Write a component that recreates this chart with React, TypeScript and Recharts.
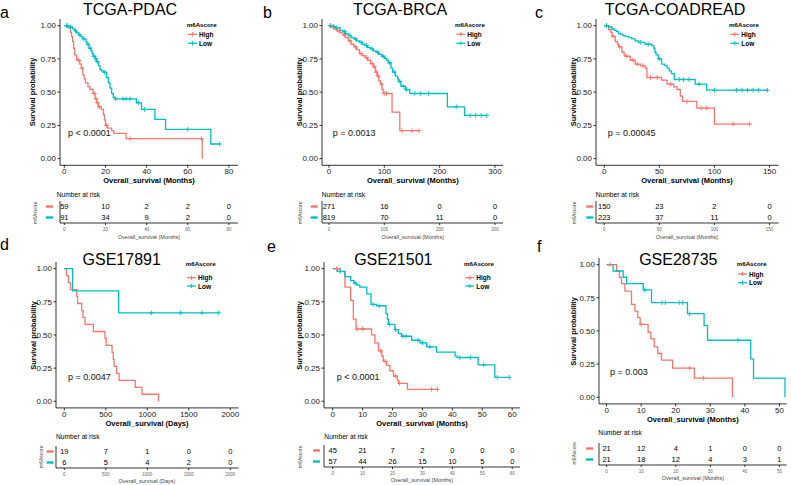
import React from 'react';
import { ComposedChart, ScatterChart, Line, Scatter, XAxis, YAxis } from 'recharts';

// [time, survival, censored?]
type Pt = [number, number, number?];

const RED = '#F8766D';
const TEAL = '#00BFC4';
const FONT = '"Liberation Sans", Arial, Helvetica, sans-serif';

const survTicks = [0, 0.25, 0.5, 0.75, 1];
const groups = ['High', 'Low'];

// a: TCGA-PDAC
const pdacTicks = [0, 20, 40, 60, 80];
const pdacHigh: Pt[] = [
  [0, 1], [1.5, 1, 1], [2, 0.983], [3, 0.95], [3.5, 0.92], [4, 0.88], [4.5, 0.83], [5, 0.78], [6, 0.74],
  [7, 0.74, 1], [7.5, 0.71], [8.3, 0.68], [8.6, 0.68, 1], [9, 0.63], [9.6, 0.6], [10.3, 0.57], [11.5, 0.54],
  [12.5, 0.52], [14, 0.49], [14.5, 0.49, 1], [15, 0.45], [15.4, 0.45, 1], [15.8, 0.42], [16.1, 0.42, 1],
  [16.5, 0.39], [17, 0.39, 1], [18, 0.37], [19, 0.33], [19.5, 0.29], [20, 0.25], [20.5, 0.25, 1], [21, 0.23],
  [23, 0.21], [24, 0.19], [30, 0.15], [32, 0.15, 1], [66.6, 0.15, 1], [67, 0],
];
const pdacLow: Pt[] = [
  [0, 1], [1, 1, 1], [2, 0.99], [3, 0.99, 1], [4, 0.975], [5, 0.96], [5.5, 0.96, 1], [6, 0.945], [7, 0.93],
  [7.5, 0.93, 1], [8, 0.915], [9, 0.9], [9.5, 0.9, 1], [10.5, 0.88], [11, 0.86], [11.5, 0.86, 1], [12, 0.83],
  [12.5, 0.83, 1], [13, 0.81], [13.5, 0.79], [14, 0.77], [14.5, 0.77, 1], [15, 0.75], [15.3, 0.75, 1],
  [15.7, 0.73], [16, 0.73, 1], [16.5, 0.7], [17.3, 0.67], [18, 0.66], [19, 0.65], [19.5, 0.65, 1],
  [20.5, 0.61], [21.4, 0.57], [22.2, 0.53], [23, 0.49], [23.8, 0.46], [24.6, 0.45], [25, 0.45, 1],
  [28.6, 0.45, 1], [30, 0.45, 1], [32, 0.45, 1], [35, 0.42], [36, 0.42, 1], [37.5, 0.37], [39, 0.37, 1],
  [44, 0.295], [49.2, 0.22], [60, 0.22, 1], [71.2, 0.11], [75.5, 0.11, 1],
];
const pdacRiskHigh = [59, 10, 2, 2, 0];
const pdacRiskLow = [91, 34, 9, 2, 0];

// b: TCGA-BRCA
const brcaTicks = [0, 100, 200, 300];
const brcaHigh: Pt[] = [
  [0, 1], [3, 1, 1], [5, 0.99], [8, 0.99, 1], [10, 0.975], [13, 0.975, 1], [15, 0.96], [18, 0.96, 1],
  [20, 0.945], [25, 0.93], [28, 0.93, 1], [30, 0.91], [35, 0.885], [38, 0.885, 1], [40, 0.86], [45, 0.84],
  [48, 0.84, 1], [50, 0.82], [55, 0.79], [58, 0.79, 1], [60, 0.775], [65, 0.76], [68, 0.76, 1], [70, 0.74],
  [75, 0.715], [78, 0.715, 1], [80, 0.69], [82, 0.69, 1], [84, 0.65], [86, 0.65, 1], [87, 0.62],
  [89, 0.62, 1], [90, 0.585], [93, 0.56], [95, 0.56, 1], [96, 0.52], [98, 0.49], [100, 0.49, 1],
  [104, 0.49, 1], [114, 0.35], [128, 0.21], [132, 0.21, 1], [150, 0.21, 1], [163, 0.21, 1],
];
const brcaLow: Pt[] = [
  [0, 1], [2, 1, 1], [5, 0.995], [8, 0.995, 1], [10, 0.985], [14, 0.985, 1], [20, 0.965], [25, 0.955],
  [28, 0.955, 1], [30, 0.94], [35, 0.925], [38, 0.925, 1], [40, 0.91], [45, 0.9], [48, 0.9, 1], [50, 0.885],
  [55, 0.875], [58, 0.875, 1], [60, 0.86], [65, 0.85], [68, 0.85, 1], [70, 0.835], [75, 0.825],
  [78, 0.825, 1], [80, 0.81], [85, 0.8], [88, 0.8, 1], [90, 0.785], [95, 0.77], [98, 0.77, 1], [100, 0.755],
  [104, 0.74], [107, 0.72], [110, 0.72, 1], [112, 0.68], [115, 0.65], [118, 0.65, 1], [120, 0.62],
  [124, 0.6], [126, 0.58], [128, 0.58, 1], [130, 0.545], [134, 0.545, 1], [138, 0.52], [140, 0.52, 1],
  [146, 0.49], [155, 0.49, 1], [165, 0.49, 1], [180, 0.49, 1], [214, 0.39], [230, 0.39, 1], [245, 0.325],
  [255, 0.325, 1], [265, 0.325, 1], [275, 0.325, 1], [285, 0.325, 1],
];
const brcaRiskHigh = [271, 16, 0, 0];
const brcaRiskLow = [819, 70, 11, 0];

// c: TCGA-COADREAD
const coadTicks = [0, 50, 100, 150];
const coadHigh: Pt[] = [
  [0, 1], [2, 1, 1], [4, 0.97], [6, 0.95], [7, 0.92], [8, 0.92, 1], [10, 0.88], [12, 0.86], [13, 0.84],
  [14, 0.84, 1], [16, 0.8], [18, 0.78], [19, 0.77], [20, 0.77, 1], [23.6, 0.74], [26, 0.74, 1], [28, 0.71],
  [30, 0.71, 1], [32.7, 0.7], [35, 0.7, 1], [37, 0.68], [38.7, 0.61], [42, 0.61, 1], [48, 0.61, 1],
  [52, 0.59], [57, 0.56], [60, 0.56, 1], [63, 0.54], [66, 0.52], [69, 0.47], [71, 0.43], [75, 0.43, 1],
  [84, 0.38], [88, 0.38, 1], [93, 0.38, 1], [100, 0.26], [117, 0.26, 1], [132, 0.26, 1],
];
const coadLow: Pt[] = [
  [0, 1], [2, 1, 1], [4, 0.99], [7, 0.975], [9, 0.965], [11, 0.955], [13, 0.94], [15, 0.935], [17, 0.925],
  [19, 0.92], [22, 0.91], [25, 0.9], [28, 0.885], [31, 0.875], [33, 0.875, 1], [37, 0.86], [40, 0.86, 1],
  [43, 0.85], [45, 0.83], [46, 0.8], [47, 0.78], [49, 0.75], [50, 0.75, 1], [52, 0.71], [55, 0.7],
  [57, 0.68], [59, 0.66], [61, 0.64], [63.5, 0.595], [68, 0.595, 1], [72, 0.595, 1], [77, 0.595, 1],
  [82.5, 0.56], [86, 0.56, 1], [93, 0.515], [100, 0.515, 1], [120, 0.515, 1], [125, 0.515, 1],
  [130, 0.515, 1], [135, 0.515, 1], [140, 0.515, 1], [148, 0.515, 1],
];
const coadRiskHigh = [150, 23, 2, 0];
const coadRiskLow = [223, 37, 11, 0];

// d: GSE17891 (days)
const gse17Ticks = [0, 500, 1000, 1500, 2000];
const gse17High: Pt[] = [
  [0, 1], [25, 0.947], [50, 0.895], [75, 0.842], [150, 0.789], [160, 0.737], [210, 0.684], [225, 0.632],
  [250, 0.579], [350, 0.526], [490, 0.474], [505, 0.421], [575, 0.368], [590, 0.316], [600, 0.263],
  [630, 0.211], [660, 0.158], [855, 0.105], [935, 0.053], [1135, 0],
];
const gse17Low: Pt[] = [
  [0, 1], [100, 0.833], [655, 0.667], [1048, 0.667, 1], [1398, 0.667, 1], [1659, 0.667, 1], [1860, 0.667, 1],
];
const gse17RiskHigh = [19, 7, 1, 0, 0];
const gse17RiskLow = [6, 5, 4, 2, 0];

// e: GSE21501
const gse21Ticks = [0, 10, 20, 30, 40, 50, 60];
const gse21High: Pt[] = [
  [0, 1], [1.3, 1, 1], [2.5, 0.978], [4.1, 0.86], [6, 0.76], [6.9, 0.62], [7.8, 0.545], [8.2, 0.545, 1],
  [10, 0.545, 1], [13, 0.5], [14.1, 0.44], [15.3, 0.38], [16, 0.38, 1], [16.4, 0.34], [16.9, 0.3],
  [17.5, 0.3, 1], [18, 0.27], [19.1, 0.23], [20.3, 0.19], [21, 0.19, 1], [21.6, 0.16], [22, 0.135],
  [22.3, 0.135, 1], [25, 0.09], [33, 0.09, 1], [35, 0.09, 1],
];
const gse21Low: Pt[] = [
  [0, 1], [1.5, 0.98], [2.5, 0.98, 1], [4.1, 0.94], [6, 0.91], [7.1, 0.89], [7.5, 0.89, 1], [8, 0.875],
  [9.1, 0.86], [11.4, 0.81], [12.8, 0.73], [13.5, 0.73, 1], [14.7, 0.72], [15.5, 0.72, 1], [17.8, 0.66],
  [18.3, 0.62], [18.6, 0.58], [19, 0.58, 1], [20.8, 0.54], [21, 0.54, 1], [21.9, 0.51], [23, 0.49],
  [23.5, 0.49, 1], [24.5, 0.49, 1], [26.4, 0.46], [28.5, 0.46, 1], [29.2, 0.44], [30, 0.44, 1],
  [31.4, 0.41], [32.5, 0.41, 1], [34.7, 0.37], [40.9, 0.34], [41.6, 0.33], [42.5, 0.33, 1], [46, 0.33, 1],
  [48.6, 0.275], [50.5, 0.275, 1], [54.2, 0.18], [55, 0.18, 1], [59, 0.18, 1],
];
const gse21RiskHigh = [45, 21, 7, 2, 0, 0, 0];
const gse21RiskLow = [57, 44, 26, 15, 10, 5, 0];

// f: GSE28735
const gse28Ticks = [0, 10, 20, 30, 40, 50];
const gse28High: Pt[] = [
  [0, 1], [1, 1, 1], [2.9, 0.952], [3.7, 0.905], [4.3, 0.857], [5.3, 0.8], [7.2, 0.7], [8.2, 0.65],
  [9, 0.6], [9.7, 0.55], [10, 0.55, 1], [12, 0.49], [12.8, 0.44], [13.8, 0.38], [14.8, 0.33], [15.9, 0.28],
  [19.1, 0.22], [24, 0.22, 1], [25.4, 0.145], [28, 0.145, 1], [36.4, 0],
];
const gse28Low: Pt[] = [
  [0, 1], [1.9, 0.952], [4.8, 0.905], [5.8, 0.857], [10.6, 0.81], [11, 0.81, 1], [13, 0.714],
  [16, 0.714, 1], [17, 0.714, 1], [21, 0.714, 1], [22, 0.714, 1], [23.4, 0.63], [24, 0.63, 1], [28.2, 0.54],
  [29.2, 0.43], [38, 0.43, 1], [41.7, 0.29], [42.5, 0.145], [51.6, 0],
];
const gse28RiskHigh = [21, 12, 4, 1, 0, 0];
const gse28RiskLow = [21, 18, 12, 4, 3, 1];

interface Layout {
  letter: string; title: string; pText: string; unit: string;
  L: number; R: number; T: number; B: number; domain: [number, number]; ticks: number[];
  high: Pt[]; low: Pt[]; riskHigh: number[]; riskLow: number[];
  titleX: number; titleY: number; letterX: number; letterY: number; pX: number; pY: number;
  legX: number; legY: number[]; ylabX: number; xlabY: number; narX: number; narY: number;
  riskBottom: number; dashR: number; m6X: number; m6Y: number; riskLabY: number;
}

const layouts: Layout[] = [
  {
    letter: 'a', title: 'TCGA-PDAC', pText: 'p < 0.0001', unit: 'Months',
    L: 60, R: 238, T: 18.7, B: 165, domain: [-2.1, 84.4], ticks: pdacTicks,
    high: pdacHigh, low: pdacLow, riskHigh: pdacRiskHigh, riskLow: pdacRiskLow,
    titleX: 130, titleY: 14.6, letterX: 0, letterY: 18, pX: 68, pY: 132.7,
    legX: 186.7, legY: [24, 34.3, 43.3], ylabX: 33, xlabY: 180, narX: 56.7, narY: 194,
    riskBottom: 223.3, dashR: 53, m6X: 35, m6Y: 212.7, riskLabY: 236.7,
  },
  {
    letter: 'b', title: 'TCGA-BRCA', pText: 'p = 0.0013', unit: 'Months',
    L: 322.3, R: 503.3, T: 18.7, B: 165, domain: [-12.6, 314.5], ticks: brcaTicks,
    high: brcaHigh, low: brcaLow, riskHigh: brcaRiskHigh, riskLow: brcaRiskLow,
    titleX: 400, titleY: 14.6, letterX: 263, letterY: 18, pX: 332.7, pY: 133.3,
    legX: 455, legY: [24, 34.3, 43.3], ylabX: 299.3, xlabY: 180, narX: 321.7, narY: 194,
    riskBottom: 223.3, dashR: 318, m6X: 300, m6Y: 212.7, riskLabY: 236.7,
  },
  {
    letter: 'c', title: 'TCGA-COADREAD', pText: 'p = 0.00045', unit: 'Months',
    L: 595.7, R: 778.3, T: 18.7, B: 165, domain: [-7.5, 158.2], ticks: coadTicks,
    high: coadHigh, low: coadLow, riskHigh: coadRiskHigh, riskLow: coadRiskLow,
    titleX: 675, titleY: 14.6, letterX: 535, letterY: 18, pX: 607.7, pY: 132.7,
    legX: 729, legY: [24, 34.3, 43.3], ylabX: 573.3, xlabY: 180, narX: 595.7, narY: 194,
    riskBottom: 223.3, dashR: 593, m6X: 574, m6Y: 212.7, riskLabY: 236.7,
  },
  {
    letter: 'd', title: 'GSE17891', pText: 'p = 0.0047', unit: 'Days',
    L: 55.7, R: 238.3, T: 262.4, B: 408.3, domain: [-100, 2100], ticks: gse17Ticks,
    high: gse17High, low: gse17Low, riskHigh: gse17RiskHigh, riskLow: gse17RiskLow,
    titleX: 121.7, titleY: 265, letterX: 0, letterY: 250, pX: 68, pY: 376.7,
    legX: 185.7, legY: [263.3, 277.7, 286], ylabX: 33.3, xlabY: 423.3, narX: 56, narY: 436.7,
    riskBottom: 468.3, dashR: 53.3, m6X: 40.7, m6Y: 456.7, riskLabY: 481,
  },
  {
    letter: 'e', title: 'GSE21501', pText: 'p < 0.0001', unit: 'Months',
    L: 324, R: 520, T: 262.4, B: 408.3, domain: [-2.9, 62.6], ticks: gse21Ticks,
    high: gse21High, low: gse21Low, riskHigh: gse21RiskHigh, riskLow: gse21RiskLow,
    titleX: 393.3, titleY: 265, letterX: 267, letterY: 252, pX: 336.7, pY: 376.7,
    legX: 464, legY: [263.3, 277.7, 286], ylabX: 299.3, xlabY: 423.3, narX: 324.3, narY: 436.7,
    riskBottom: 467.3, dashR: 320, m6X: 300, m6Y: 456.7, riskLabY: 480,
  },
  {
    letter: 'f', title: 'GSE28735', pText: 'p = 0.003', unit: 'Months',
    L: 599, R: 786.7, T: 258.4, B: 404.3, domain: [-2.2, 52.1], ticks: gse28Ticks,
    high: gse28High, low: gse28Low, riskHigh: gse28RiskHigh, riskLow: gse28RiskLow,
    titleX: 678.3, titleY: 265, letterX: 537, letterY: 252, pX: 610, pY: 372.3,
    legX: 736.7, legY: [263.3, 274, 282.7], ylabX: 573.3, xlabY: 419.3, narX: 598.3, narY: 432.7,
    riskBottom: 465, dashR: 593, m6X: 574.3, m6Y: 453.3, riskLabY: 478,
  },
];

const YW = 30;
const XH = 16;
const MT = 6;
const MR = 8;
const RH = 22;
const RMT = 3;
const RXH = 12;

const toRows = (pts: Pt[]) => pts.map(([t, s, c]) => ({ t, s, c: !!c }));
const riskRows = (ticks: number[], n: number[], row: number) => ticks.map((t, i) => ({ t, row, n: n[i] }));

const censor = (color: string) => (p: any) => {
  const { cx, cy, payload, index } = p;
  if (!payload || !payload.c || cx == null) return <g key={`e${index}`} />;
  return (
    <path key={`c${index}`} d={`M${cx - 2.4},${cy}h4.8M${cx},${cy - 2.4}v4.8`} stroke={color} strokeWidth={0.9} fill="none" />
  );
};

const riskNumber = (p: any) => (
  <text x={p.cx} y={p.cy} textAnchor="middle" dominantBaseline="central" fontSize={7.5} fill="#000" fontFamily={FONT}>
    {p.payload.n}
  </text>
);

const dashTick = (offset: number) => (p: any) => (
  <rect
    x={p.x - offset - 7}
    y={p.y - 1.2}
    width={7}
    height={2.4}
    fill={p.payload.value === 2 ? RED : TEAL}
  />
);

const Panel: React.FC<{ lay: Layout }> = ({ lay }) => {
  const w = lay.R - lay.L + YW + MR;
  return (
    <>
      <div style={{ position: 'absolute', left: lay.L - YW, top: lay.T - MT }}>
        <ComposedChart width={w} height={lay.B - lay.T + MT + XH} margin={{ top: MT, right: MR, bottom: 0, left: 0 }}>
          <XAxis
            type="number"
            dataKey="t"
            domain={lay.domain}
            ticks={lay.ticks}
            allowDataOverflow
            interval={0}
            height={XH}
            tickSize={2.5}
            tickMargin={0.7}
            stroke="#000"
            strokeWidth={0.8}
            tick={{ fontSize: 8, fill: '#222', fontFamily: FONT }}
          />
          <YAxis
            type="number"
            dataKey="s"
            domain={[-0.05, 1.05]}
            ticks={survTicks}
            allowDataOverflow
            interval={0}
            width={YW}
            tickSize={2.5}
            tickMargin={1.5}
            stroke="#000"
            strokeWidth={0.8}
            tickFormatter={(v: number) => v.toFixed(2)}
            tick={{ fontSize: 8, fill: '#222', fontFamily: FONT }}
          />
          <Line
            data={toRows(lay.high)}
            dataKey="s"
            type="stepAfter"
            stroke={RED}
            strokeWidth={1.3}
            dot={censor(RED)}
            activeDot={false}
            isAnimationActive={false}
          />
          <Line
            data={toRows(lay.low)}
            dataKey="s"
            type="stepAfter"
            stroke={TEAL}
            strokeWidth={1.3}
            dot={censor(TEAL)}
            activeDot={false}
            isAnimationActive={false}
          />
        </ComposedChart>
      </div>
      <div style={{ position: 'absolute', left: lay.L - YW, top: lay.riskBottom - RH - RMT }}>
        <ScatterChart width={w} height={RH + RMT + RXH} margin={{ top: RMT, right: MR, bottom: 0, left: 0 }}>
          <XAxis
            type="number"
            dataKey="t"
            domain={lay.domain}
            ticks={lay.ticks}
            allowDataOverflow
            interval={0}
            height={RXH}
            tickSize={2}
            tickMargin={3}
            stroke="#000"
            strokeWidth={0.8}
            tick={{ fontSize: 4.5, fill: '#666', fontFamily: FONT }}
          />
          <YAxis
            type="number"
            dataKey="row"
            domain={[0.5, 2.5]}
            ticks={[1, 2]}
            interval={0}
            width={YW}
            tickSize={0}
            tickMargin={0}
            tickLine={false}
            stroke="#000"
            strokeWidth={0.8}
            tick={dashTick(lay.L - lay.dashR)}
          />
          <Scatter data={riskRows(lay.ticks, lay.riskHigh, 2)} shape={riskNumber} isAnimationActive={false} />
          <Scatter data={riskRows(lay.ticks, lay.riskLow, 1)} shape={riskNumber} isAnimationActive={false} />
        </ScatterChart>
      </div>
    </>
  );
};

const PanelText: React.FC<{ lay: Layout }> = ({ lay }) => {
  const cx = (lay.L + lay.R) / 2;
  const cy = (lay.T + lay.B) / 2;
  const colors = [RED, TEAL];
  return (
    <g fontFamily={FONT}>
      <text x={lay.letterX} y={lay.letterY} fontSize={16}>{lay.letter}</text>
      <text x={lay.titleX} y={lay.titleY} fontSize={16} textAnchor="middle">{lay.title}</text>
      <text x={lay.pX} y={lay.pY} fontSize={9} dominantBaseline="central" fill="#111">{lay.pText}</text>
      <text x={lay.legX} y={lay.legY[0]} fontSize={6.2} fontWeight="bold" dominantBaseline="central">m6Ascore</text>
      {groups.map((g, i) => (
        <g key={g}>
          <line x1={lay.legX + 1.3} x2={lay.legX + 10.3} y1={lay.legY[i + 1]} y2={lay.legY[i + 1]} stroke={colors[i]} strokeWidth={1.2} />
          <path
            d={`M${lay.legX + 3.6},${lay.legY[i + 1]}h4.4M${lay.legX + 5.8},${lay.legY[i + 1] - 2.2}v4.4`}
            stroke={colors[i]}
            strokeWidth={0.9}
          />
          <text x={lay.legX + 12.3} y={lay.legY[i + 1]} fontSize={6.5} fontWeight="bold" dominantBaseline="central">{g}</text>
        </g>
      ))}
      <text
        x={lay.ylabX}
        y={cy}
        fontSize={7.4}
        fontWeight="bold"
        textAnchor="middle"
        dominantBaseline="central"
        transform={`rotate(-90 ${lay.ylabX} ${cy})`}
      >
        Survival probability
      </text>
      <text x={cx} y={lay.xlabY} fontSize={7.5} fontWeight="bold" textAnchor="middle" dominantBaseline="central">
        {`Overall_survival (${lay.unit})`}
      </text>
      <text x={lay.narX} y={lay.narY} fontSize={6.7} dominantBaseline="central">Number at risk</text>
      <text
        x={lay.m6X}
        y={lay.m6Y}
        fontSize={5}
        fill="#444"
        textAnchor="middle"
        dominantBaseline="central"
        transform={`rotate(-90 ${lay.m6X} ${lay.m6Y})`}
      >
        m6Ascore
      </text>
      <text x={cx} y={lay.riskLabY} fontSize={5.5} fill="#444" textAnchor="middle" dominantBaseline="central">
        {`Overall_survival (${lay.unit})`}
      </text>
    </g>
  );
};

export default function App() {
  return (
    <div
      style={{
        position: 'absolute',
        left: 0,
        top: 0,
        width: 791,
        height: 485,
        background: '#fff',
        overflow: 'hidden',
        fontFamily: FONT,
      }}
    >
      {layouts.map((lay) => (
        <Panel key={lay.letter} lay={lay} />
      ))}
      <svg width={791} height={485} style={{ position: 'absolute', left: 0, top: 0, pointerEvents: 'none' }}>
        {layouts.map((lay) => (
          <PanelText key={lay.letter} lay={lay} />
        ))}
      </svg>
    </div>
  );
}
